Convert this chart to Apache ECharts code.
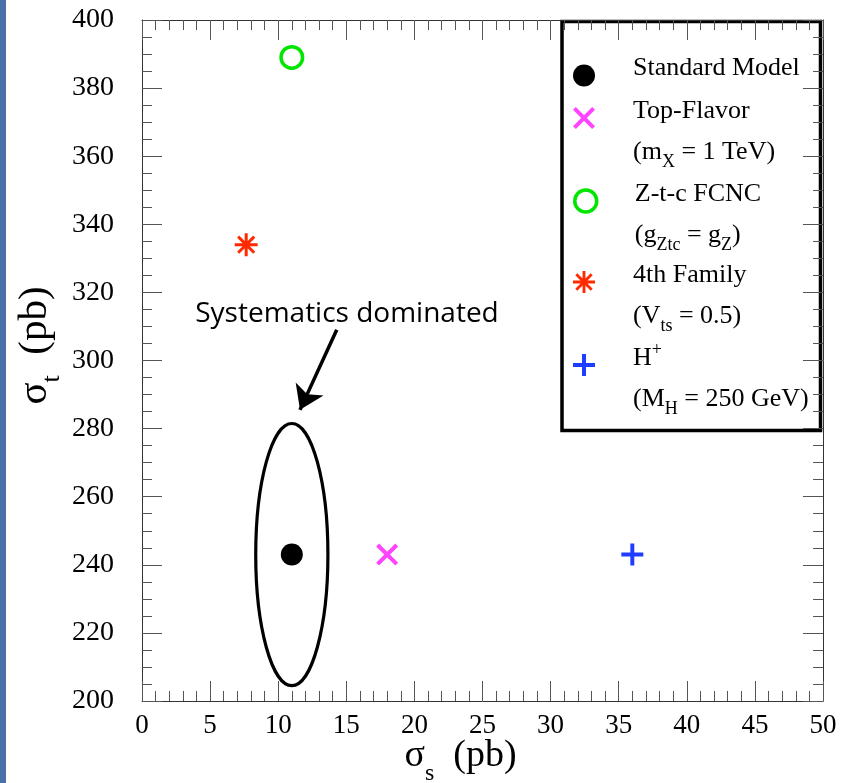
<!DOCTYPE html>
<html><head><meta charset="utf-8">
<script src="https://cdn.jsdelivr.net/npm/echarts@6/dist/echarts.min.js"></script>
<style>html,body{margin:0;padding:0;background:#fff}#c{width:846px;height:783px}</style>
</head><body><div id="c"></div>
<script>
// ---- data ----
const xRange = [0, 50];
const xStep = 5;
const yRange = [200, 400];
const yStep = 20;
const seriesNames = ['Standard Model', 'Top-Flavor', 'Z-t-c FCNC', '4th Family', 'H+'];
const smPoint = [[11, 243]];
const topFlavorPoint = [[18, 243]];
const fcncPoint = [[11, 389]];
const fourthFamilyPoint = [[7.65, 334]];
const chargedHiggsPoint = [[36, 243]];
// ellipse around the SM point: centre x, centre y, half-width (pb), half-height (pb)
const smEllipse = [[11, 243, 2.65, 38.5]];
const arrowFrom = [14.3, 309];
const arrowTo = [11.6, 285.5];
const annotationPos = [15.05, 313.7];
const annotationText = 'Systematics dominated';
const legendLabels = {
  'Standard Model': '{t|Standard Model}',
  'Top-Flavor': '{t|Top-Flavor}\n{t|(m}{sub|X}{t| = 1 TeV)}',
  'Z-t-c FCNC': '{t|Z-t-c FCNC}\n{t|(g}{sub|Ztc}{t| = g}{sub|Z}{t|)}',
  '4th Family': '{t|4th Family}\n{t|(V}{sub|ts}{t| = 0.5)}',
  'H+': '{t|H}{sup|+}\n{t|(M}{sub|H}{t| = 250 GeV)}'
};
const xTitle = '{a|σ}{s|s}{a|  (pb)}';
const yTitle = '{a|σ}{s|t}{a|  (pb)}';

// ---- layout (pixels) ----
const legendIconY = [76, 119, 202, 283, 362];

// ---- symbols ----
const SYM_X = 'path://M0,13 L13,0 L100,87 L87,100 Z M87,0 L100,13 L13,100 L0,87 Z';
const SYM_PLUS = 'path://M41,0 L59,0 L59,41 L100,41 L100,59 L59,59 L59,100 L41,100 L41,59 L0,59 L0,41 L41,41 Z';
const SYM_STAR = 'path://M43.5,0 L56.5,0 L56.5,100 L43.5,100 Z M100,43.5 L100,56.5 L0,56.5 L0,43.5 Z M19.6,10.4 L89.6,80.4 L80.4,89.6 L10.4,19.6 Z M80.4,10.4 L89.6,19.6 L19.6,89.6 L10.4,80.4 Z';

const SERIF = 'Liberation Serif';
const legendRich = {
  t: {fontFamily: SERIF, fontSize: 26, lineHeight: 41, color: '#000'},
  sub: {fontFamily: SERIF, fontSize: 18, lineHeight: 18, color: '#000', padding: [19, 0, 0, 0]},
  sup: {fontFamily: SERIF, fontSize: 18, lineHeight: 18, color: '#000', padding: [0, 0, 16, 0]}
};

const tickColor = '#555';
const lineColor = '#333';
function xAxisDef(pos, showLabel) {
  return {
    type: 'value', position: pos, min: xRange[0], max: xRange[1], interval: xStep,
    axisLine: {show: true, onZero: false, lineStyle: {color: lineColor, width: 1}},
    axisTick: {show: true, inside: true, length: 20, lineStyle: {color: tickColor, width: 1}},
    minorTick: {show: true, splitNumber: 5, length: 10, lineStyle: {color: tickColor, width: 1}},
    splitLine: {show: false}, minorSplitLine: {show: false},
    axisLabel: {show: showLabel, margin: 11, fontFamily: SERIF, fontSize: 27, color: '#000'}
  };
}
function yAxisDef(pos, showLabel) {
  return {
    type: 'value', position: pos, min: yRange[0], max: yRange[1], interval: yStep,
    axisLine: {show: true, onZero: false, lineStyle: {color: lineColor, width: 1}},
    axisTick: {show: true, inside: true, length: 20, lineStyle: {color: tickColor, width: 1}},
    minorTick: {show: true, splitNumber: 4, length: 10, lineStyle: {color: tickColor, width: 1}},
    splitLine: {show: false}, minorSplitLine: {show: false},
    axisLabel: {show: showLabel, margin: 28, fontFamily: SERIF, fontSize: 28, color: '#000'}
  };
}
const xBottom = Object.assign(xAxisDef('bottom', true), {
  name: xTitle, nameLocation: 'middle', nameGap: 26, nameMoveOverlap: false,
  nameTextStyle: {padding: [0, 44, 0, 0], rich: {
    a: {fontFamily: SERIF, fontSize: 38, color: '#000'},
    s: {fontFamily: SERIF, fontSize: 24, color: '#000', padding: [35, 0, 0, 0]}
  }}
});
const yLeft = Object.assign(yAxisDef('left', true), {
  name: yTitle, nameLocation: 'middle', nameGap: 77, nameMoveOverlap: false,
  nameTextStyle: {padding: [0, 0, 0, 30], rich: {
    a: {fontFamily: SERIF, fontSize: 41, color: '#000'},
    s: {fontFamily: SERIF, fontSize: 26, color: '#000', padding: [34, 0, 0, 0]}
  }}
});

const legends = seriesNames.map(function (name, i) {
  const item = (i === 2) ? {name: name, itemStyle: {borderWidth: 3.5}} : {name: name};
  return {
    orient: 'vertical', left: 573, top: legendIconY[i] - 20.5, padding: 0,
    itemWidth: 22, itemHeight: 22, selectedMode: false,
    formatter: n => legendLabels[n],
    data: [item],
    textStyle: {padding: i === 0 ? [0, 0, 14, 33] : [28, 0, 0, 33], rich: legendRich}
  };
});

const chart = echarts.init(document.getElementById('c'), null, {renderer: 'canvas'});
chart.setOption({
  animation: false,
  backgroundColor: '#fff',
  grid: {left: 142, top: 20, width: 681, height: 681, containLabel: false, outerBoundsMode: 'none'},
  xAxis: [xBottom, xAxisDef('top', false)],
  yAxis: [yLeft, yAxisDef('right', false)],
  legend: legends,
  graphic: [
    {type: 'rect', left: 0, top: 0, shape: {x: 0, y: 0, width: 6, height: 783}, style: {fill: '#4a70a8'}, silent: true},
    {type: 'rect', shape: {x: 562, y: 21.5, width: 258.5, height: 409}, style: {fill: 'none', stroke: '#000', lineWidth: 3.5}, silent: true, z: 0}
  ],
  series: [
    {
      type: 'custom', name: 'SM ellipse', coordinateSystem: 'cartesian2d', silent: true, z: 1,
      data: smEllipse,
      renderItem: function (params, api) {
        const c = api.coord([api.value(0), api.value(1)]);
        const s = api.size([api.value(2), api.value(3)]);
        return {type: 'ellipse', shape: {cx: c[0], cy: c[1], rx: s[0], ry: s[1]},
          style: {fill: 'none', stroke: '#000', lineWidth: 3.2}};
      }
    },
    {
      type: 'scatter', name: seriesNames[0], data: smPoint, symbol: 'circle', symbolSize: 22,
      itemStyle: {color: '#000', opacity: 1}, silent: true, z: 3,
      markLine: {
        silent: true, animation: false, symbol: ['none', 'arrow'], symbolSize: 23,
        lineStyle: {color: '#000', width: 3.5, type: 'solid', opacity: 1}, label: {show: false},
        itemStyle: {color: '#000'},
        data: [[{coord: arrowFrom}, {coord: arrowTo}]]
      },
      markPoint: {
        silent: true, animation: false, symbol: 'circle', symbolSize: 0,
        label: {show: true, position: 'inside', formatter: annotationText, fontFamily: 'Open Sans', fontSize: 28, color: '#000'},
        data: [{coord: annotationPos}]
      }
    },
    {
      type: 'scatter', name: seriesNames[1], data: topFlavorPoint, symbol: SYM_X, symbolSize: 22,
      itemStyle: {color: '#ff44ff', opacity: 1}, silent: true, z: 3
    },
    {
      type: 'scatter', name: seriesNames[2], data: fcncPoint, symbol: 'circle', symbolSize: 21.5,
      itemStyle: {color: 'rgba(0,0,0,0)', borderColor: '#00e600', borderWidth: 3.5, opacity: 1}, silent: true, z: 3
    },
    {
      type: 'scatter', name: seriesNames[3], data: fourthFamilyPoint, symbol: SYM_STAR, symbolSize: 23,
      itemStyle: {color: '#ff2a00', opacity: 1}, silent: true, z: 3
    },
    {
      type: 'scatter', name: seriesNames[4], data: chargedHiggsPoint, symbol: SYM_PLUS, symbolSize: 22,
      itemStyle: {color: '#1f3dff', opacity: 1}, silent: true, z: 3
    }
  ]
});
</script>
</body></html>
